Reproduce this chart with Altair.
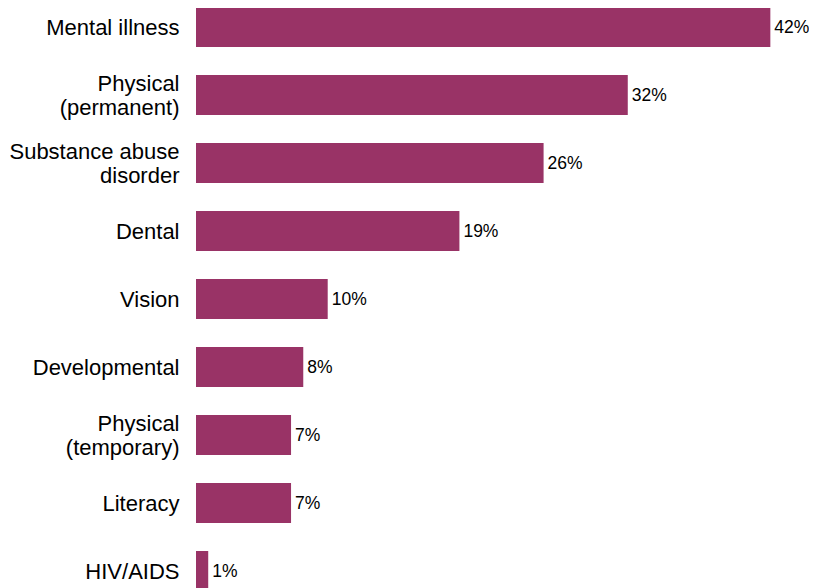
import altair as alt
import pandas as pd

categories = ["Mental illness", "Physical|(permanent)", "Substance abuse|disorder", "Dental",
              "Vision", "Developmental", "Physical|(temporary)", "Literacy", "HIV/AIDS"]
values = [42.3, 31.8, 25.6, 19.4, 9.7, 7.9, 7.0, 7.0, 0.9]
value_labels = ["42%", "32%", "26%", "19%", "10%", "8%", "7%", "7%", "1%"]

df = pd.DataFrame({"cat": categories, "val": values, "lbl": value_labels})

y = alt.Y("cat:N", sort=categories, title=None,
          scale=alt.Scale(paddingInner=28/68, paddingOuter=0),
          axis=alt.Axis(labelExpr="split(datum.label, '|')", labelFont="Liberation Sans",
                        labelFontSize=22, labelColor="#000000", labelPadding=17,
                        labelLineHeight=24, ticks=False, domain=False, labelLimit=400,
                        labelOffset={"condition": {"test": "indexof(datum.label, '|') >= 0", "value": -12},
                                     "value": 0}))
x = alt.X("val:Q", title=None, scale=alt.Scale(domain=[0, 45], nice=False), axis=None)

bars = alt.Chart(df).mark_bar(color="#993366", yOffset=-1).encode(x=x, y=y)
text = alt.Chart(df).mark_text(align="left", baseline="middle", dx=4, yOffset=0,
                               font="Liberation Sans", fontSize=17.5, color="#000000").encode(
    x=x, y=y, text="lbl:N")

chart = (bars + text).properties(
    width=611, height=584,
    autosize=alt.AutoSizeParams(type="none"),
    padding={"left": 188, "top": 0, "right": 2, "bottom": 0},
).configure_view(stroke=None)

chart.save("out.html", embed_options={"renderer": "svg", "actions": False})
